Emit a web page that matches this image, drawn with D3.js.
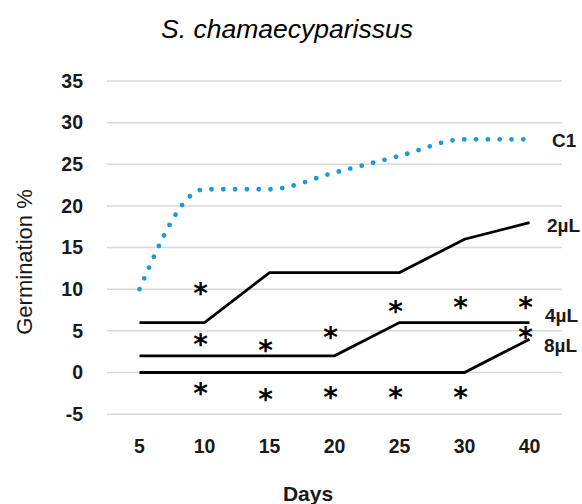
<!DOCTYPE html>
<html><head><meta charset="utf-8">
<script src="https://cdn.jsdelivr.net/npm/d3@7"></script>
<style>body{margin:0;background:#fff}svg{display:block}</style>
</head><body>
<script>
const days = ["5","10","15","20","25","30","40"];
const c1 = [10,22,22,24,26,28,28];
const s2 = [6,6,12,12,12,16,18];
const s4 = [2,2,2,2,6,6,6];
const s8 = [0,0,0,0,0,0,4];
const seriesNames = ["C1","2µL","4µL","8µL"];
const yTicks = [-5,0,5,10,15,20,25,30,35];
const starDays = ["10","10","10","15","15","20","20","25","25","30","30","40","40"];
const starValues = [10,3.9,-2.0,3.2,-2.7,4.8,-2.5,7.9,-2.5,8.4,-2.5,8.4,4.7];

const W=582,H=504;
const svg=d3.select("body").append("svg").attr("width",W).attr("height",H);
const font="'Liberation Sans', Arial, sans-serif";
const x=d3.scaleBand().domain(days).range([107,562]);
const y=d3.scaleLinear().domain([0,35]).range([372.5,81]);
const cx=d=>x(d)+x.bandwidth()/2;

// grid
svg.append("g").selectAll("line").data(yTicks).join("line")
  .attr("x1",107).attr("x2",562).attr("y1",d=>y(d)).attr("y2",d=>y(d))
  .attr("stroke","#d9d9d9").attr("stroke-width",1.5);

// y axis labels
const ya=svg.append("g").attr("transform","translate(90,0)")
  .call(d3.axisLeft(y).tickValues(yTicks).tickFormat(d=>String(d)).tickSize(0).tickPadding(7));
ya.select(".domain").remove();
ya.selectAll("text").attr("font-family",font).attr("font-weight","bold").attr("font-size",19.5).attr("fill","#1a1a1a");

// x axis labels
const xa=svg.append("g").attr("transform","translate(0,439)")
  .call(d3.axisBottom(x).tickSize(0).tickPadding(0));
xa.select(".domain").remove();
xa.selectAll("text").attr("font-family",font).attr("font-weight","bold").attr("font-size",19.5).attr("fill","#1a1a1a");

// lines
const straight=d3.line().x((d,i)=>cx(days[i])).y(d=>y(d));
[s2,s4,s8].forEach(s=>{
  svg.append("path").attr("d",straight(s)).attr("fill","none").attr("stroke","#000").attr("stroke-width",2.8);
});
const smooth=d3.line().x((d,i)=>cx(days[i])).y(d=>y(d)).curve(d3.curveMonotoneX);
svg.append("path").attr("d",smooth(c1)).attr("fill","none").attr("stroke","#1a9ad8")
  .attr("stroke-width",4.8).attr("stroke-linecap","round").attr("stroke-dasharray","0 11.8");

// series labels
const lab=[[seriesNames[0],552,147],[seriesNames[1],547,232],[seriesNames[2],545,322],[seriesNames[3],544,352]];
svg.append("g").selectAll("text").data(lab).join("text")
  .attr("x",d=>d[1]).attr("y",d=>d[2]).text(d=>d[0])
  .attr("font-family",font).attr("font-weight","bold").attr("font-size",19).attr("fill","#1a1a1a");

// stars
svg.append("g").selectAll("text").data(starValues).join("text")
  .attr("x",(d,i)=>cx(starDays[i])-4).attr("y",d=>y(d)+14)
  .attr("text-anchor","middle").text("*")
  .attr("font-family","'DejaVu Sans', sans-serif").attr("font-weight","bold").attr("font-size",28).attr("fill","#000");

// title
svg.append("text").attr("x",287).attr("y",38).attr("text-anchor","middle")
  .attr("font-family",font).attr("font-style","italic").attr("font-size",26.5).attr("fill","#000")
  .text("S. chamaecyparissus");
// axis titles
svg.append("text").attr("transform","translate(32,262) rotate(-90)").attr("text-anchor","middle")
  .attr("font-family",font).attr("font-size",22).attr("fill","#1a1a1a").text("Germination %");
svg.append("text").attr("x",308).attr("y",501).attr("text-anchor","middle")
  .attr("font-family",font).attr("font-weight","bold").attr("font-size",21).attr("fill","#1a1a1a").text("Days");
</script>
</body></html>
